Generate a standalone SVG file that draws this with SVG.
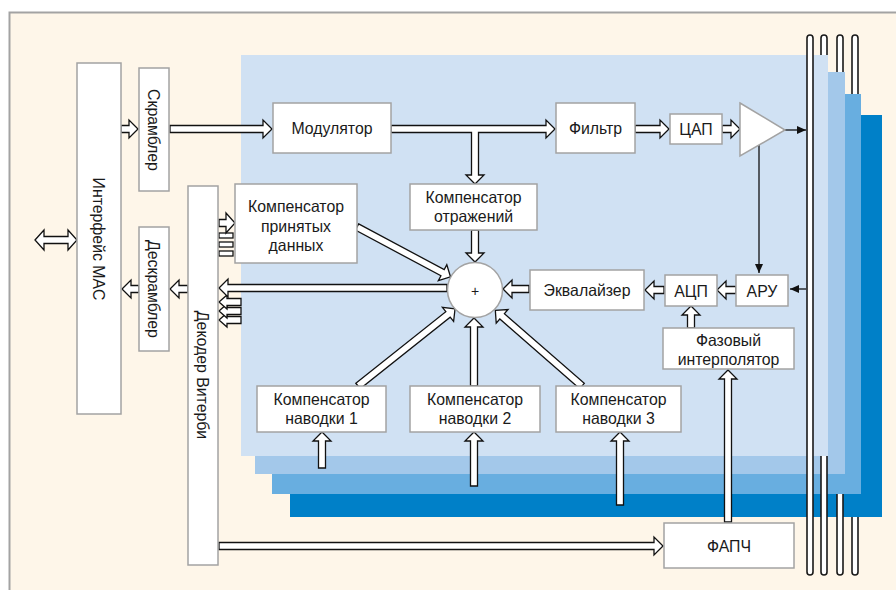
<svg xmlns="http://www.w3.org/2000/svg" width="896" height="590" viewBox="0 0 896 590">
<defs>
<style>
.box{fill:#ffffff;stroke:#a3a3a3;stroke-width:1.5}
.t{font-family:"Liberation Sans",Arial,sans-serif;font-size:16.5px;fill:#1a1a1a;text-anchor:middle;dominant-baseline:central}
.ha{fill:#ffffff;stroke:#111111;stroke-width:1.3;stroke-linejoin:miter}
.thin{stroke:#111111;stroke-width:1.3;fill:none}
.tube{fill:#ffffff;stroke:#1a1a1a;stroke-width:1.6}
</style>
<marker id="ah" markerWidth="9" markerHeight="8" refX="9" refY="4" orient="auto" markerUnits="userSpaceOnUse">
<path d="M0 0 L9 4 L0 8 Z" fill="#111111"/>
</marker>
</defs>

<rect x="0" y="0" width="896" height="590" fill="#ffffff"/>
<rect x="9" y="12" width="887" height="578" fill="#fef6e9"/>
<path d="M9.5 590 V12.5 H896" fill="none" stroke="#a3a3a3" stroke-width="2"/>

<g id="layers">
<rect x="852" y="35" width="6" height="540" rx="3" class="tube"/>
<rect x="290" y="115" width="592" height="402" fill="#0080c8"/>
<rect x="837" y="35" width="6" height="540" rx="3" class="tube"/>
<rect x="272" y="94" width="589" height="400" fill="#68aee0"/>
<rect x="255" y="72" width="590" height="402" fill="#a3c8ea"/>
<rect x="821" y="35" width="6" height="540" rx="3" class="tube"/>
<rect x="241" y="55" width="587" height="401" fill="#d0e1f3"/>
<rect x="807" y="35" width="6" height="540" rx="3" class="tube"/>
</g>

<g id="connectors">
<path class="ha" d="M35 240 L44 230 V236.5 H68 V230 L77 240 L68 250 V243.5 H44 V250 Z"/>
<path class="ha" d="M121 125.5 H129 V120 L138 129 L129 138 V132.5 H121 Z"/>
<path class="ha" d="M170 125.5 H263 V120 L272 129 L263 138 V132.5 H170 Z"/>
<path class="ha" d="M391 125.5 H546 V120 L555 129 L546 138 V132.5 H478.5 V175 H484 L475 184 L466 175 H471.5 V132.5 H391 Z"/>
<path class="ha" d="M635 125.5 H660 V120 L669 129 L660 138 V132.5 H635 Z"/>
<path class="ha" d="M722 125.5 H731 V120 L740 129 L731 138 V132.5 H722 Z"/>
<path class="ha" d="M471.5 230 V253 H466 L475 262 L484 253 H478.5 V230 Z"/>
<path class="ha" d="M529 285.5 H512 V280 L503 289 L512 298 V292.5 H529 Z"/>
<path class="ha" d="M664 286.5 H654 V281 L645 290 L654 299 V293.5 H664 Z"/>
<path class="ha" d="M736 286.5 H726 V281 L717 290 L726 299 V293.5 H736 Z"/>
<path class="ha" d="M687.5 328 V315 H682 L691 306 L700 315 H694.5 V328 Z"/>
<path class="ha" d="M724.5 522 V379 H719 L728 370 L737 379 H731.5 V522 Z"/>
<path class="ha" d="M219 542.5 H654 V537 L663 546 L654 555 V549.5 H219 Z"/>
<path class="ha" d="M470.5 386 V327 H465 L474 318 L483 327 H477.5 V386 Z"/>
<path class="ha" d="M318.5 468 V441 H313 L322 432 L331 441 H325.5 V468 Z"/>
<path class="ha" d="M470.5 486 V441 H465 L474 432 L483 441 H477.5 V486 Z"/>
<path class="ha" d="M616.5 505 V441 H611 L620 432 L629 441 H623.5 V505 Z"/>
<path class="ha" transform="translate(357,227) rotate(28.1)" d="M0 -3.5 H97 V-9 L106 0 L97 9 V3.5 H0 Z"/>
<path class="ha" transform="translate(358,386) rotate(-38.5)" d="M0 -3.5 H115 V-9 L124 0 L115 9 V3.5 H0 Z"/>
<path class="ha" transform="translate(582,386) rotate(-138.9)" d="M0 -3.5 H106 V-9 L115 0 L106 9 V3.5 H0 Z"/>
<path class="ha" d="M241 316.5 H227 V313 L219 320 L227 327 V323.5 H241 Z"/>
<path class="ha" d="M241 307.5 H227 V304 L219 311 L227 318 V314.5 H241 Z"/>
<path class="ha" d="M241 298.5 H227 V295 L219 302 L227 309 V305.5 H241 Z"/>
<path class="ha" d="M447 284.5 H228 V279 L219 288 L228 297 V291.5 H447 Z"/>
<rect class="ha" x="219" y="251" width="14" height="5"/>
<rect class="ha" x="219" y="242" width="14" height="5"/>
<rect class="ha" x="219" y="233" width="14" height="5"/>
<path class="ha" d="M219 219.5 H226 V213 L235 223 L226 233 V226.5 H219 Z"/>
<path class="ha" d="M139 285.5 H131 V280 L122 289 L131 298 V292.5 H139 Z"/>
<path class="ha" d="M188 285.5 H179 V280 L170 289 L179 298 V292.5 H188 Z"/>
<line class="thin" x1="785" y1="130" x2="806" y2="130" marker-end="url(#ah)"/>
<line class="thin" x1="759" y1="145" x2="759" y2="273" marker-end="url(#ah)"/>
<line class="thin" x1="806" y1="289" x2="790" y2="289" marker-end="url(#ah)"/>
</g>

<g id="mac"><rect class="box" x="77" y="63" width="44" height="351"/><text class="t" transform="translate(99 239) rotate(90) scale(0.96 1)">Интерфейс MAC</text></g>
<g id="scrambler"><rect class="box" x="139" y="68" width="30" height="123"/><text class="t" transform="translate(154 130) rotate(90) scale(0.96 1)">Скрамблер</text></g>
<g id="descrambler"><rect class="box" x="139" y="227" width="30" height="124"/><text class="t" transform="translate(154 289) rotate(90) scale(0.96 1)">Дескрамблер</text></g>
<g id="viterbi"><rect class="box" x="188" y="186" width="30" height="379"/><text class="t" transform="translate(203 375) rotate(90) scale(0.96 1)">Декодер Витерби</text></g>
<g id="modulator"><rect class="box" x="273" y="103" width="118" height="50"/><text class="t" transform="translate(332 128) scale(0.96 1)">Модулятор</text></g>
<g id="filter"><rect class="box" x="556" y="103" width="79" height="50"/><text class="t" transform="translate(595.5 128) scale(0.96 1)">Фильтр</text></g>
<g id="dac"><rect class="box" x="670" y="114" width="52" height="30"/><text class="t" transform="translate(696 129) scale(0.96 1)">ЦАП</text></g>
<g id="amp"><path d="M740 103 L785 130 L740 156 Z" fill="#ffffff" stroke="#a3a3a3" stroke-width="1.5"/></g>
<g id="comp-data"><rect class="box" x="235" y="184" width="122" height="79"/><text class="t" transform="translate(296 206) scale(0.96 1)">Компенсатор</text><text class="t" transform="translate(296 225.5) scale(0.96 1)">принятых</text><text class="t" transform="translate(296 245) scale(0.96 1)">данных</text></g>
<g id="comp-refl"><rect class="box" x="410" y="184" width="127" height="46"/><text class="t" transform="translate(473.5 197) scale(0.96 1)">Компенсатор</text><text class="t" transform="translate(473.5 216) scale(0.96 1)">отражений</text></g>
<g id="sum"><circle cx="475" cy="290" r="27.5" fill="#ffffff" stroke="#a3a3a3" stroke-width="1.5"/><text class="t" x="475" y="291" style="font-size:14px">+</text></g>
<g id="equalizer"><rect class="box" x="530" y="270" width="114" height="40"/><text class="t" transform="translate(587 290) scale(0.96 1)">Эквалайзер</text></g>
<g id="adc"><rect class="box" x="665" y="275" width="52" height="31"/><text class="t" transform="translate(691 290.5) scale(0.96 1)">АЦП</text></g>
<g id="agc"><rect class="box" x="736" y="275" width="52" height="31"/><text class="t" transform="translate(762 290.5) scale(0.96 1)">АРУ</text></g>
<g id="phase"><rect class="box" x="663" y="328" width="131" height="41"/><text class="t" transform="translate(728.5 340) scale(0.96 1)">Фазовый</text><text class="t" transform="translate(728.5 359) scale(0.96 1)">интерполятор</text></g>
<g id="comp1"><rect class="box" x="257" y="386" width="129" height="46"/><text class="t" transform="translate(321.5 399) scale(0.96 1)">Компенсатор</text><text class="t" transform="translate(321.5 418) scale(0.96 1)">наводки 1</text></g>
<g id="comp2"><rect class="box" x="410" y="386" width="130" height="46"/><text class="t" transform="translate(475 399) scale(0.96 1)">Компенсатор</text><text class="t" transform="translate(475 418) scale(0.96 1)">наводки 2</text></g>
<g id="comp3"><rect class="box" x="556" y="386" width="125" height="46"/><text class="t" transform="translate(618.5 399) scale(0.96 1)">Компенсатор</text><text class="t" transform="translate(618.5 418) scale(0.96 1)">наводки 3</text></g>
<g id="pll"><rect class="box" x="664" y="523" width="130" height="45"/><text class="t" transform="translate(729 546) scale(0.96 1)">ФАПЧ</text></g>
</svg>
